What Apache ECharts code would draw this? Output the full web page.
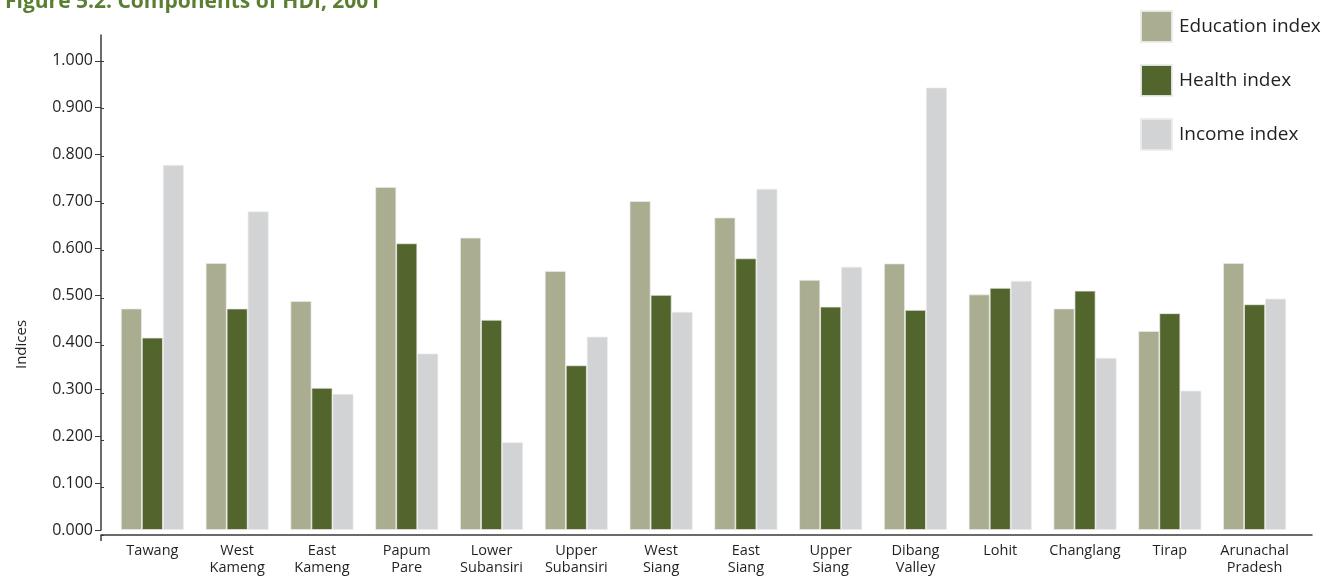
<!DOCTYPE html>
<html>
<head>
<meta charset="utf-8">
<script src="https://cdn.jsdelivr.net/npm/echarts@6/dist/echarts.min.js"></script>
<style>html,body{margin:0;padding:0;background:#fff}#c{width:1322px;height:576px}</style>
</head>
<body>
<div id="c"></div>
<script>
const categories = ['Tawang','West\nKameng','East\nKameng','Papum\nPare','Lower\nSubansiri','Upper\nSubansiri','West\nSiang','East\nSiang','Upper\nSiang','Dibang\nValley','Lohit','Changlang','Tirap','Arunachal\nPradesh'];
const educationIndex = [0.472,0.569,0.488,0.731,0.623,0.552,0.701,0.666,0.533,0.568,0.502,0.472,0.424,0.569];
const healthIndex    = [0.410,0.472,0.303,0.611,0.448,0.351,0.501,0.579,0.476,0.469,0.516,0.510,0.462,0.481];
const incomeIndex    = [0.778,0.679,0.290,0.376,0.187,0.412,0.465,0.727,0.561,0.943,0.531,0.367,0.297,0.493];
const yTicks = [0,0.1,0.2,0.3,0.4,0.5,0.6,0.7,0.8,0.9,1.0];

const FONT = '"Open Sans", "Noto Sans", sans-serif';
const AXIS = '#3a3a3a';
const chart = echarts.init(document.getElementById('c'), null, {renderer:'canvas'});
function bar(name, data, color){
  return {name, type:'bar', data, barWidth:21, barGap:'0%', barCategoryGap:'25%',
    xAxisIndex:0, yAxisIndex:0,
    itemStyle:{color, borderColor:'rgba(235,235,235,0.9)', borderWidth:0.8}, animation:false};
}
chart.setOption({
  animation:false,
  textStyle:{fontFamily:FONT},
  title:{text:'Figure 5.2: Components of HDI, 2001', left:0, top:-13,
    textStyle:{fontSize:21, fontWeight:'bold', color:'#5b7f32', fontFamily:FONT}},
  legend:{orient:'vertical', left:1135, top:5, itemWidth:31, itemHeight:31, itemGap:21,
    icon:'rect', textStyle:{fontSize:19, color:'#231f20', fontFamily:FONT, padding:[0,0,0,2]},
    data:['Education index','Health index','Income index']},
  grid:[
    {left:110, right:25, top:35, bottom:41, containLabel:false},
    {left:101, right:10, top:35, bottom:41, containLabel:false}
  ],
  xAxis:[
    {type:'category', data:categories, gridIndex:0,
      axisLine:{show:false},
      axisTick:{show:false},
      axisLabel:{fontSize:14.5, color:'#231f20', margin:12, lineHeight:17, interval:0, fontFamily:FONT}},
    {type:'value', gridIndex:1, min:0, max:1,
      axisLine:{show:true, lineStyle:{color:AXIS, width:1.5}},
      axisTick:{show:true, length:6, customValues:[0], lineStyle:{color:AXIS, width:1.5}},
      axisLabel:{show:false}, splitLine:{show:false}}
  ],
  yAxis:[
    {type:'value', gridIndex:0, min:0, max:1.055, interval:0.1, offset:9,
      name:'Indices', nameLocation:'middle', nameGap:72, nameRotate:90,
      nameTextStyle:{fontSize:15, color:'#231f20', fontFamily:FONT, padding:[0,124,0,0]},
      axisLine:{show:true, lineStyle:{color:AXIS, width:1.5}},
      axisTick:{show:true, length:6, customValues:yTicks, lineStyle:{color:AXIS}},
      axisLabel:{fontSize:16, color:'#231f20', margin:8, customValues:yTicks,
        formatter:function(v){return v.toFixed(3);}, fontFamily:FONT},
      splitLine:{show:false}},
    {type:'value', gridIndex:1, min:0, max:1.055, show:true,
      axisLine:{show:false},
      axisTick:{show:true, inside:true, length:3, customValues:yTicks, lineStyle:{color:AXIS}},
      axisLabel:{show:false}, splitLine:{show:false}}
  ],
  series:[
    bar('Education index', educationIndex, '#aaad90'),
    bar('Health index', healthIndex, '#52652d'),
    bar('Income index', incomeIndex, '#d1d3d4')
  ]
});
</script>
</body>
</html>
